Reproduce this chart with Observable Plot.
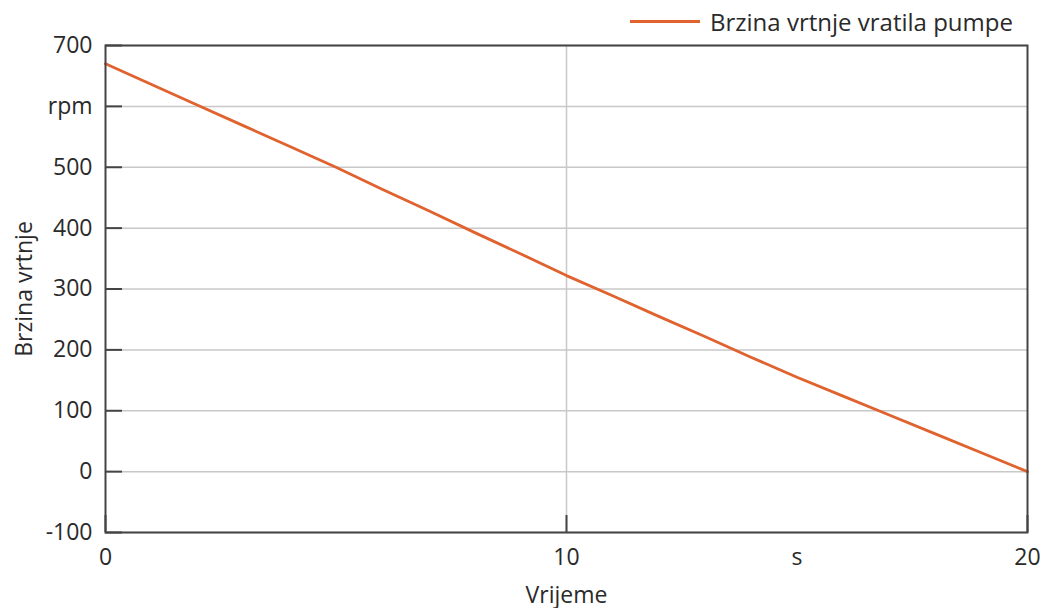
<!DOCTYPE html>
<html><head><meta charset="utf-8">
<script src="https://cdn.jsdelivr.net/npm/d3@7"></script>
<script src="https://cdn.jsdelivr.net/npm/@observablehq/plot@0.6"></script>
<style>
body{margin:0;background:#fff;font-family:"Open Sans",sans-serif;}
#wrap{position:relative;width:1044px;height:608px;}
#legend{position:absolute;left:630px;top:5px;display:flex;align-items:center;font-size:24px;color:#2a2a2a;white-space:nowrap;}
#legend .sw{display:inline-block;width:70px;height:0;border-top:3px solid #e0622e;margin-right:10px;}
svg{display:block;}
</style></head><body>
<div id="wrap"></div>
<script>
const seriesName = "Brzina vrtnje vratila pumpe";
const time = [0,1,2,3,4,5,6,7,8,9,10,11,12,13,14,15,16,17,18,19,20];
const speed = [670,636,602,568,534,500,464,429,393,358,322,289,255,222,188,155,124,93,62,31,0];
const yTicks = [-100,0,100,200,300,400,500,600,700];
const yTickLabels = ["-100","0","100","200","300","400","500","rpm","700"];
const xTickMarks = [0,10,20];
const xLabelTicks = [0,10,15,20];
const xTickLabels = ["0","10","s","20"];
const xTitle = "Vrijeme";
const yTitle = "Brzina vrtnje";

const data = time.map((t,i)=>({t, v: speed[i]}));
const lineColor = "#e0622e";
const textColor = "#2a2a2a";

const chart = Plot.plot({
  width: 1044, height: 608,
  marginLeft: 105, marginRight: 17, marginTop: 45, marginBottom: 76,
  style: {fontFamily: '"Open Sans", sans-serif', fontSize: "23px", color: textColor, background: "#fff"},
  x: {domain: [0,20]},
  y: {domain: [-100,700]},
  marks: [
    Plot.gridY(yTicks, {stroke: "#c8c8c8", strokeOpacity: 1, strokeWidth: 1.5}),
    Plot.gridX([10], {stroke: "#c8c8c8", strokeOpacity: 1, strokeWidth: 1.5}),
    Plot.axisY(yTicks, {tickSize: -17, tickFormat: () => "", stroke: "#444", strokeWidth: 2, label: null}),
    Plot.axisY(yTicks, {tickSize: 0, tickPadding: 13, tickFormat: d => yTickLabels[yTicks.indexOf(d)], fill: textColor,
      label: yTitle, labelAnchor: "center", labelOffset: 90, labelArrow: "none"}),
    Plot.axisX(xTickMarks, {tickSize: -17, tickFormat: () => "", stroke: "#444", strokeWidth: 2, label: null}),
    Plot.axisX(xLabelTicks, {tickSize: 0, tickPadding: 16, tickFormat: d => xTickLabels[xLabelTicks.indexOf(d)], fill: textColor,
      label: xTitle, labelAnchor: "center", labelOffset: 70, labelArrow: "none"}),
    Plot.line(data, {x: "t", y: "v", stroke: lineColor, strokeWidth: 2.8}),
    Plot.frame({stroke: "#444", strokeWidth: 2})
  ]
});
const wrap = document.getElementById("wrap");
wrap.appendChild(chart);
const lg = document.createElement("div");
lg.id = "legend";
lg.innerHTML = '<span class="sw"></span><span></span>';
lg.lastChild.textContent = seriesName;
wrap.appendChild(lg);
</script>
</body></html>
